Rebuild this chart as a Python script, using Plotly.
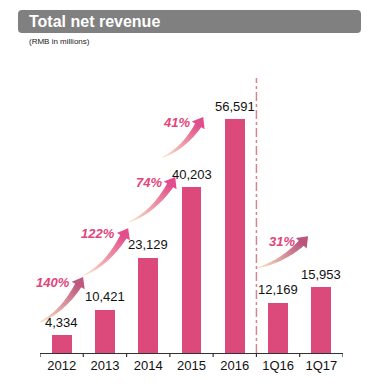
import math
import plotly.graph_objects as go

# ---------------- data ----------------
categories = ["2012", "2013", "2014", "2015", "2016", "1Q16", "1Q17"]
revenue = [4334, 10421, 23129, 40203, 56591, 12169, 15953]
growth_pairs = [(0, 1), (1, 2), (2, 3), (3, 4), (5, 6)]
title_text = "Total net revenue"
subtitle_text = "(RMB in millions)"

# ---------------- layout / style ----------------
W, H = 369, 390
ML, MR, MT, MB = 40, 26, 78, 37
YMAX = 66600
FONT = "Liberation Sans, Arial, sans-serif"
BAR_COLOR = "#db4a7b"
PCT_COLOR = "#e0457b"
PEACH = (252, 226, 196)

# arrow geometry in axis units: (x0, y0, x1_tip, y1_tip, end colour)
ARROWS = [
    (-0.546, 7264, 0.493, 18402, (190, 88, 126)),
    (0.516, 18886, 1.533, 30266, (226, 78, 140)),
    (1.556, 31719, 2.620, 42615, (226, 78, 140)),
    (2.340, 47458, 3.265, 57143, (226, 78, 140)),
    (4.510, 20581, 5.690, 28329, (186, 86, 126)),
]

PW = W - ML - MR
PH = H - MT - MB
SX = PW / len(categories)       # px per category
SY = PH / YMAX                  # px per unit


def to_px(x, y):
    return ML + (x + 0.5) * SX, (H - MB) - y * SY


def to_data(px, py):
    return (px - ML) / SX - 0.5, ((H - MB) - py) / SY


def paper_x(px):
    return (px - ML) / PW


def paper_y(py):
    return ((H - MB) - py) / PH


fig = go.Figure()

fig.add_trace(go.Bar(
    x=list(range(len(categories))), y=revenue, width=0.46,
    marker=dict(color=BAR_COLOR, line=dict(width=0)),
    hoverinfo="skip", showlegend=False,
))

annotations = []
for i, v in enumerate(revenue):
    annotations.append(dict(
        x=i, y=v, xref="x", yref="y", text=f"{v:,}", showarrow=False,
        yanchor="middle", yshift=13, font=dict(family=FONT, size=13, color="#111111"),
    ))

# curved gradient arrows
for (a, b), (x0, y0, x1, y1, endc) in zip(growth_pairs, ARROWS):
    p0 = to_px(x0, y0)
    p1 = to_px(x1, y1)
    dx, dy = p1[0] - p0[0], p1[1] - p0[1]
    c = (p0[0] + 0.6 * dx, p0[1] + 0.25 * dy)
    n = 200
    pts = []
    for k in range(n + 1):
        t = k / n
        px = (1 - t) ** 2 * p0[0] + 2 * (1 - t) * t * c[0] + t ** 2 * p1[0]
        py = (1 - t) ** 2 * p0[1] + 2 * (1 - t) * t * c[1] + t ** 2 * p1[1]
        pts.append((px, py))
    dist = [0.0] * (n + 1)
    for k in range(n - 1, -1, -1):
        dist[k] = dist[k + 1] + math.hypot(pts[k + 1][0] - pts[k][0], pts[k + 1][1] - pts[k][1])
    total = dist[0]
    head_size = 13
    head_k = min(range(n + 1), key=lambda k: abs(dist[k] - head_size / 2))
    body_end = min(range(n + 1), key=lambda k: abs(dist[k] - head_size / 2))
    bx, by, bs, bc = [], [], [], []
    for k in range(0, body_end + 1, 2):
        f = (total - dist[k]) / (total - dist[body_end])
        xx, yy = to_data(*pts[k])
        bx.append(xx)
        by.append(yy)
        bs.append(1.0 + 6.0 * f)
        g = f ** 1.1
        col = tuple(int(PEACH[j] + (endc[j] - PEACH[j]) * g) for j in range(3))
        bc.append(f"rgb{col}")
    fig.add_trace(go.Scatter(
        x=bx, y=by, mode="markers",
        marker=dict(size=bs, color=bc, line=dict(width=0), symbol="circle"),
        hoverinfo="skip", showlegend=False, cliponaxis=False,
    ))
    hx, hy = pts[head_k]
    tx, ty = pts[max(head_k - 6, 0)]
    ang = math.degrees(math.atan2(hx - tx, -(hy - ty)))
    hxd, hyd = to_data(hx, hy)
    fig.add_trace(go.Scatter(
        x=[hxd], y=[hyd], mode="markers",
        marker=dict(size=head_size, color=f"rgb{endc}", symbol="triangle-up",
                    angle=ang, line=dict(width=0)),
        hoverinfo="skip", showlegend=False, cliponaxis=False,
    ))
    pct = round((revenue[b] / revenue[a] - 1) * 100)
    annotations.append(dict(
        x=x1, y=y1, xref="x", yref="y", text=f"<b><i>{pct}%</i></b>", showarrow=False,
        xanchor="right", yanchor="middle", xshift=-11, yshift=-5,
        font=dict(family=FONT, size=13, color=PCT_COLOR),
    ))

# title bar
x0p, x1p = paper_x(18), paper_x(361)
y0p, y1p = paper_y(33), paper_y(10)
rx, ry = 4 / PW, 4 / PH
path = (f"M {x0p + rx},{y1p} L {x1p - rx},{y1p} Q {x1p},{y1p} {x1p},{y1p - ry} "
        f"L {x1p},{y0p + ry} Q {x1p},{y0p} {x1p - rx},{y0p} "
        f"L {x0p + rx},{y0p} Q {x0p},{y0p} {x0p},{y0p + ry} "
        f"L {x0p},{y1p - ry} Q {x0p},{y1p} {x0p + rx},{y1p} Z")
shapes = [
    dict(type="path", xref="paper", yref="paper", path=path,
         fillcolor="#808080", line=dict(width=0), layer="below"),
    dict(type="line", xref="x", yref="paper", x0=4.5, x1=4.5, y0=0, y1=1,
         line=dict(color="#d7838f", width=1.5, dash="dashdot")),
]
annotations.append(dict(
    x=paper_x(27), y=paper_y(21.5), xref="paper", yref="paper", text=f"<b>{title_text}</b>",
    showarrow=False, xanchor="left", yanchor="middle",
    font=dict(family=FONT, size=16, color="white"),
))
annotations.append(dict(
    x=paper_x(27), y=paper_y(41), xref="paper", yref="paper", text=subtitle_text,
    showarrow=False, xanchor="left", yanchor="middle",
    font=dict(family=FONT, size=8, color="#222222"),
))

fig.update_layout(
    width=W, height=H, margin=dict(l=ML, r=MR, t=MT, b=MB, autoexpand=False),
    paper_bgcolor="white", plot_bgcolor="white",
    shapes=shapes, annotations=annotations, bargap=0,
    xaxis=dict(
        range=[-0.5, len(categories) - 0.5], tickmode="array",
        tickvals=list(range(len(categories))), ticktext=categories,
        showgrid=False, zeroline=False, showline=True, linecolor="#333333", linewidth=1,
        ticks="outside", ticklen=0, fixedrange=True,
        tickfont=dict(family=FONT, size=13, color="#111111"),
    ),
    yaxis=dict(range=[0, YMAX], visible=False, fixedrange=True),
    font=dict(family=FONT),
)

for j in range(len(categories) + 1):
    fig.add_shape(type="line", xref="x", yref="paper", x0=j - 0.5, x1=j - 0.5,
                  y0=0, y1=-4 / PH, line=dict(color="#333333", width=1.2))

fig.write_html("out.html", config={"displayModeBar": False},
               post_script="document.body.style.margin='0';document.body.style.padding='0';")
